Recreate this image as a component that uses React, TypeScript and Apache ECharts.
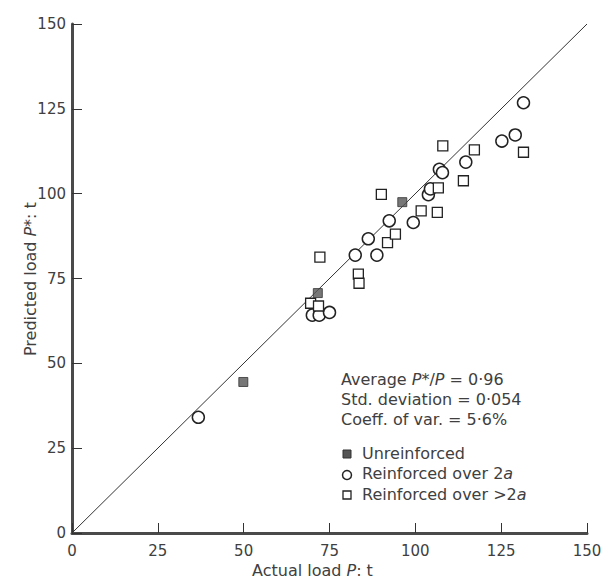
import React, { useEffect, useRef } from "react";
import * as echarts from "echarts";

const xTicks = [0, 25, 50, 75, 100, 125, 150];
const yTicks = [0, 25, 50, 75, 100, 125, 150];

const unreinforced: number[][] = [
  [49.9, 44.5],
  [71.6, 70.7],
  [96.2, 97.5],
];

const reinforced2a: number[][] = [
  [36.8, 34.1], [70.0, 64.2], [72.0, 64.2], [75.0, 65.0], [82.5, 81.9],
  [86.3, 86.7], [88.8, 81.9], [92.4, 92.0], [99.4, 91.5], [103.8, 99.7],
  [104.4, 101.4], [107.0, 107.2], [107.9, 106.2], [114.7, 109.3],
  [125.2, 115.5], [129.1, 117.3], [131.5, 126.8],
];

const reinforcedOver2a: number[][] = [
  [69.5, 67.7], [71.8, 66.9], [72.2, 81.3], [83.4, 76.3], [83.6, 73.6],
  [90.1, 99.8], [91.9, 85.6], [94.2, 88.1], [101.7, 94.9], [106.4, 94.5],
  [106.7, 101.7], [108.0, 114.1], [114.0, 103.8], [117.2, 112.9],
  [131.5, 112.2],
];

const equalityLine: number[][] = [
  [0, 0],
  [150, 150],
];

const statsLines = [
  "{n|Average }{i|P}{n|*/}{i|P}{n| = 0·96}",
  "{n|Std. deviation = 0·054}",
  "{n|Coeff. of var. = 5·6%}",
];

const legendLabels = [
  "{n|Unreinforced}",
  "{n|Reinforced over 2}{i|a}",
  "{n|Reinforced over >2}{i|a}",
];

const FONT = "DejaVu Sans";
const TXT = "#404040";

export default function App() {
  const ref = useRef<HTMLDivElement>(null);

  useEffect(() => {
    if (!ref.current) return;
    const chart = echarts.init(ref.current, undefined, { renderer: "svg" });

    const rich = {
      n: { fontFamily: FONT, fontSize: 16, fill: TXT, color: TXT },
      i: { fontFamily: FONT, fontSize: 16, fill: TXT, color: TXT, fontStyle: "italic" },
    };

    const axisCommon = {
      type: "value" as const,
      min: 0,
      max: 150,
      interval: 25,
      splitLine: { show: false },
      axisLine: { show: true, onZero: false, lineStyle: { color: "#4a4a4a", width: 3 } },
      axisTick: { show: true, inside: true, length: 10, lineStyle: { color: "#333", width: 1 } },
      axisLabel: {
        color: TXT,
        fontFamily: FONT,
        fontSize: 15,
      },
    };

    const graphics: any[] = [];
    statsLines.forEach((t, k) => {
      graphics.push({
        type: "text",
        left: 341,
        top: 371 + k * 20,
        style: { text: t, rich, fontFamily: FONT, fontSize: 16, fill: TXT },
      });
    });
    legendLabels.forEach((t, k) => {
      graphics.push({
        type: "text",
        left: 362,
        top: 445 + k * 20.5,
        style: { text: t, rich, fontFamily: FONT, fontSize: 16, fill: TXT },
      });
    });
    graphics.push({
      type: "rect",
      shape: { x: 343, y: 450, width: 8, height: 8 },
      style: { fill: "#555", stroke: "#333", lineWidth: 1 },
    });
    graphics.push({
      type: "circle",
      shape: { cx: 347, cy: 475, r: 4.5 },
      style: { fill: "#fff", stroke: "#222", lineWidth: 1.5 },
    });
    graphics.push({
      type: "rect",
      shape: { x: 343, y: 491, width: 8, height: 8 },
      style: { fill: "#fff", stroke: "#222", lineWidth: 1.3 },
    });
    graphics.push({
      type: "text",
      left: 252,
      top: 562,
      style: {
        text: "{n|Actual load }{i|P}{n|: t}",
        rich,
        fontFamily: FONT,
        fontSize: 16,
        fill: TXT,
      },
    });
    graphics.push({
      type: "text",
      x: 22,
      y: 356,
      rotation: Math.PI / 2,
      style: {
        text: "{n|Predicted load }{i|P}{n|*: t}",
        rich,
        fontFamily: FONT,
        fontSize: 16,
        fill: TXT,
      },
    });

    chart.setOption({
      animation: false,
      backgroundColor: "#ffffff",
      grid: { left: 72, right: 19, top: 24, bottom: 51, containLabel: false },
      xAxis: {
        ...axisCommon,
        axisLabel: { ...axisCommon.axisLabel, margin: 10 },
      },
      yAxis: {
        ...axisCommon,
        axisLabel: { ...axisCommon.axisLabel, margin: 6 },
      },
      graphic: graphics,
      series: [
        {
          type: "line",
          data: equalityLine,
          symbol: "none",
          lineStyle: { color: "#333", width: 1 },
          silent: true,
          z: 1,
        },
        {
          name: "Unreinforced",
          type: "scatter",
          data: unreinforced,
          symbol: "rect",
          symbolSize: 9,
          itemStyle: { color: "#555", borderColor: "#333", borderWidth: 1 },
          z: 3,
        },
        {
          name: "Reinforced over 2a",
          type: "scatter",
          data: reinforced2a,
          symbol: "circle",
          symbolSize: 12,
          itemStyle: { color: "#fff", borderColor: "#222", borderWidth: 1.5, opacity: 1 },
          z: 2,
        },
        {
          name: "Reinforced over >2a",
          type: "scatter",
          data: reinforcedOver2a,
          symbol: "rect",
          symbolSize: 10,
          itemStyle: { color: "#fff", borderColor: "#222", borderWidth: 1.3, opacity: 1 },
          z: 2,
        },
      ],
    });

    return () => chart.dispose();
  }, []);

  return (
    <div
      ref={ref}
      style={{ position: "fixed", left: 0, top: 0, width: 606, height: 584, background: "#fff" }}
    />
  );
}
